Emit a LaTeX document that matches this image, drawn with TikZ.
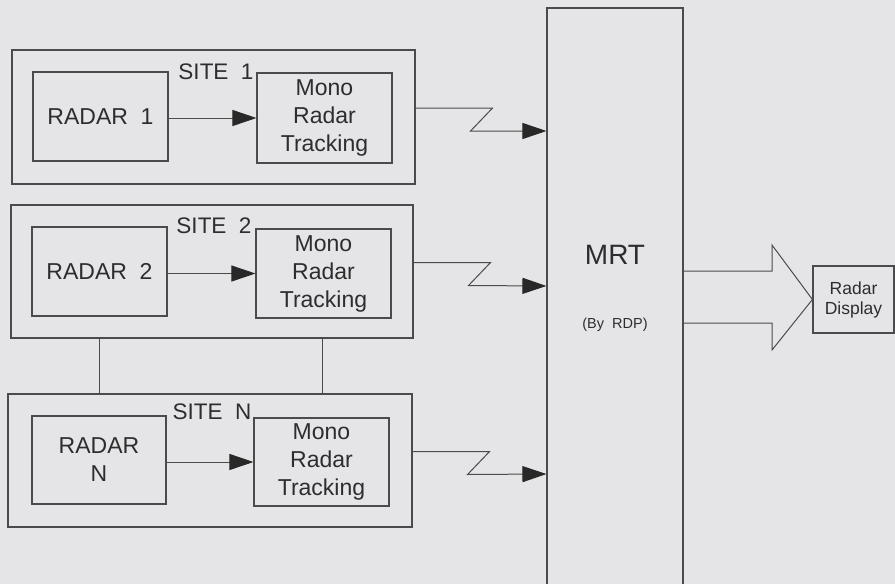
\documentclass[tikz,border=0pt]{standalone}
\usepackage{fontspec}
\setmainfont{Liberation Sans}
\usetikzlibrary{arrows.meta,calc}
\definecolor{bg}{RGB}{229,229,232}
\definecolor{ln}{RGB}{75,75,75}
\definecolor{tx}{RGB}{45,45,45}
\definecolor{hd}{RGB}{40,40,40}
\begin{document}
\begin{tikzpicture}[x=1pt,y=-1pt,
  box/.style={draw=ln, line width=1.1pt, inner sep=0pt, text=tx, align=center,
              font=\fontsize{23}{28}\selectfont},
  sitebox/.style={draw=ln, line width=1.1pt, inner sep=0pt},
  sitetitle/.style={text=tx, inner sep=0pt, font=\fontsize{22.5}{25}\selectfont},
  link/.style={draw=ln, line width=1pt, -{Triangle[length=24pt,width=16pt,color=hd]}},
  conn/.style={draw=ln, line width=1pt}]
\fill[bg] (0,0) rectangle (895,584);
\useasboundingbox (0,0) rectangle (895,584);

% Site 1
\node[sitebox, minimum width=403pt, minimum height=134pt] (s1) at (213.5,117) {};
\node[box, minimum width=135pt, minimum height=89pt] (r1) at (100.5,116.5) {RADAR~~1};
\node[box, minimum width=135pt, minimum height=90pt] (m1) at (324.5,118) {Mono\\Radar\\Tracking};
\node[sitetitle] (t1) at (216,72) {SITE~~1};
\draw[link] (r1.east |- m1.west) -- (m1.west);

% Site 2
\node[sitebox, minimum width=402pt, minimum height=133pt] (s2) at (212,271.5) {};
\node[box, minimum width=135pt, minimum height=89pt] (r2) at (99.5,271.5) {RADAR~~2};
\node[box, minimum width=135pt, minimum height=89pt] (m2) at (323.5,273.5) {Mono\\Radar\\Tracking};
\node[sitetitle] (t2) at (214,226) {SITE~~2};
\draw[link] (r2.east |- m2.west) -- (m2.west);

% Site N
\node[sitebox, minimum width=404pt, minimum height=133pt] (sN) at (210,460.5) {};
\node[box, minimum width=134pt, minimum height=88pt] (rN) at (99,460) {RADAR\\N};
\node[box, minimum width=135pt, minimum height=88pt] (mN) at (321.5,462) {Mono\\Radar\\Tracking};
\node[sitetitle] (tN) at (212,412) {SITE~~N};
\draw[link] (rN.east |- mN.west) -- (mN.west);

% links between site 2 and site N
\draw[conn] (r2.south |- s2.south) -- (r2.south |- sN.north);
\draw[conn] ([xshift=-1.5pt]m2.south |- s2.south) -- ([xshift=-1.5pt]m2.south |- sN.north);

% MRT
\node[draw=ln, line width=1.1pt, minimum width=136pt, minimum height=600pt, inner sep=0pt] (MRT) at (615,308) {};
\node[text=tx, inner sep=0pt, font=\fontsize{28}{32}\selectfont] (mrtl) at (615,254.5) {MRT};
\node[text=tx, inner sep=0pt, font=\fontsize{14.5}{16}\selectfont] (rdp) at (615,325) {(By~~RDP)};

% zigzag links
\coordinate (b1) at (0,131);
\coordinate (b2) at (0,286);
\coordinate (bN) at (0,474);
\draw[link] ([yshift=9pt]s1.east) -- ++(77,0) -- ++(-22,23) -- (MRT.west |- b1);
\draw[link] ([yshift=9pt]s2.east) -- ++(77,0) -- ++(-22,23) -- (MRT.west |- b2);
\draw[link] ([yshift=9pt]sN.east) -- ++(77,0) -- ++(-22,23) -- (MRT.west |- bN);

% Radar display
\node[box, minimum width=81pt, minimum height=67pt, font=\fontsize{17.5}{20}\selectfont] (disp) at (853.5,299.5) {Radar\\Display};

% big arrow
\coordinate (st) at (0,271);
\coordinate (sb) at (0,323);
\coordinate (ht) at (772,245);
\coordinate (hb) at (772,350);
\draw[conn, line join=miter] (MRT.east |- st) -- (ht |- st) -- (ht) -- (disp.west) -- (hb) -- (hb |- sb) -- (MRT.east |- sb);
\end{tikzpicture}
\end{document}
